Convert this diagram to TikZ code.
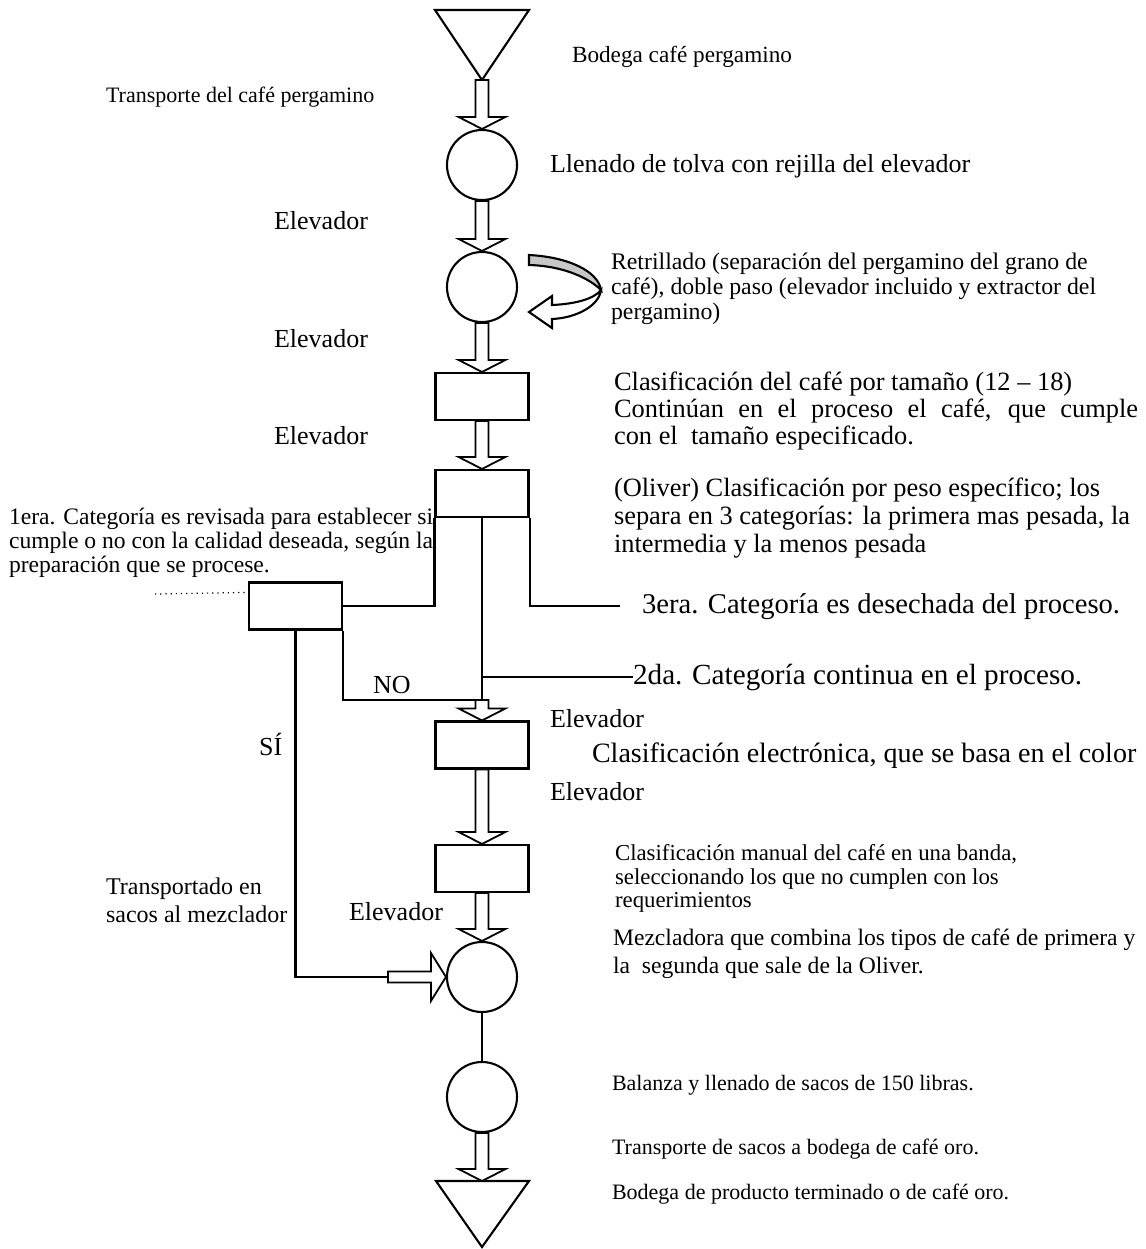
\documentclass[tikz,border=0pt]{standalone}
\usepackage{fontspec}
\setmainfont{Liberation Serif}
\usetikzlibrary{calc}

% hollow block arrow pointing down, from anchor #1 to tip #2
\newcommand\flowdown[2]{%
  \draw[blk] ($(#1)+(-6.5,0)$) -- ($(#2)+(-6.5,-12)$) -- ($(#2)+(-23.5,-12)$)
    -- (#2) -- ($(#2)+(23.5,-12)$) -- ($(#2)+(6.5,-12)$) -- ($(#1)+(6.5,0)$) -- cycle;}
\newcommand\fs[1]{\fontsize{#1}{#1}\selectfont}

\begin{document}
\begin{tikzpicture}[x=0.5pt,y=-0.5pt,line width=1.05pt,
  lbl/.style={anchor=base west,inner sep=0pt,font=\fs{12}},
  proc/.style={draw,circle,minimum size=35pt,inner sep=0pt},
  stepbox/.style={draw,rectangle,minimum width=46.5pt,minimum height=23.5pt,inner sep=0pt},
  blk/.style={draw,fill=white,line width=0.9pt,line join=miter}]

\useasboundingbox (0,0) rectangle (1146,1249);

% storage triangles
\coordinate (top) at (482,80);
\draw (435,10) -- (529,10) -- (top) -- cycle;
\coordinate (bot) at (482,1181);
\draw (bot) -- (436,1181) -- (482,1247) -- (529,1181) -- cycle;

% operations and inspections
\node[proc] (c1) at (482,165) {};
\node[proc] (c2) at (482,287) {};
\node[stepbox] (b1) at (482,396.5) {};
\node[stepbox] (ol) at (482,493.5) {};
\node[stepbox] (chk) at (295.5,606) {};
\node[stepbox] (b3) at (482,745) {};
\node[stepbox] (b4) at (482,868.5) {};
\node[proc] (mx) at (482,977) {};
\node[proc] (c5) at (482,1097) {};

% branch points and free ends
\coordinate (jno) at (482,700);
\coordinate (jnoR) at (489,700);
\coordinate (j2) at (482,677);
\coordinate (e2) at (633,677);
\coordinate (e3) at (620,606);
\coordinate (sIn) at (388,977);
\coordinate (dotL) at (155,594);

% flow arrows
\flowdown{top}{c1.north}
\flowdown{c1.south}{c2.north}
\flowdown{c2.south}{b1.north}
\flowdown{b1.south}{ol.north}
\flowdown{jno}{b3.north}
\flowdown{b3.south}{b4.north}
\flowdown{b4.south}{mx.north}
\flowdown{c5.south}{bot}

% Oliver outputs
\draw (ol.south west) |- (chk.east);
\draw (ol.south east) |- (e3);
\draw (ol.south) -- (jno);
\draw (j2) -- (e2);
\draw (chk.south east) |- (jnoR);
\draw (chk.south) |- (sIn);
\draw[dotted,line width=0.6pt] (dotL) -- ($(chk.north west)+(-3,11)$);
\draw (mx.south) -- (c5.north);

% sacks to the mixer
\draw[blk] ($(sIn)+(0,-5.5)$) -- ($(mx.west)+(-15,-5.5)$) -- ($(mx.west)+(-15,-24)$)
  -- (mx.west) -- ($(mx.west)+(-15,24)$) -- ($(mx.west)+(-15,5.5)$) -- ($(sIn)+(0,5.5)$) -- cycle;

% double pass (curved return arrow)
\draw[fill=black!22] (529,255) .. controls (568,257) and (598,271) .. (601,290)
  .. controls (590,279) and (565,266) .. (529,265) -- cycle;
\draw[fill=white,line join=miter] (601,290) .. controls (599,306) and (576,318) .. (552,319)
  -- (552,328) -- (529,312) -- (552,296) -- (552,305)
  .. controls (575,304) and (594,299) .. (601,290) -- cycle;

% labels
\node[lbl,font=\fs{11.6}] (tBodega) at (571,62) {Bodega café pergamino};
\node[lbl,font=\fs{11}] (tTransp) at (105,102) {Transporte del café pergamino};
\node[lbl,font=\fs{13}] (tLlen) at (549,172) {Llenado de tolva con rejilla del elevador};
\node[lbl,font=\fs{13}] (tEl1) at (273,229) {Elevador};
\node[lbl,font=\fs{11.9}] (tRe1) at (610,269) {Retrillado (separación del pergamino del grano de};
\node[lbl,font=\fs{11.9}] (tRe2) at (610,294) {café), doble paso (elevador incluido y extractor del};
\node[lbl,font=\fs{11.9}] (tRe3) at (610,319) {pergamino)};
\node[lbl,font=\fs{13}] (tEl2) at (273,347) {Elevador};
\node[lbl,font=\fs{13.2}] (tCl1) at (613,390) {Clasificación del café por tamaño (12 – 18)};
\node[lbl,font=\fs{13.2}] (tCl2) at (613,417) {\makebox[262pt][s]{Continúan en el proceso el café, que cumple}};
\node[lbl,font=\fs{13.2}] (tCl3) at (613,444) {con el\ \ tamaño especificado.};
\node[lbl,font=\fs{13}] (tEl3) at (273,444) {Elevador};
\node[lbl,font=\fs{13.2}] (tOl1) at (613,496) {(Oliver) Clasificación por peso específico; los};
\node[lbl,font=\fs{13.2}] (tOl2) at (613,524) {separa en 3 categorías: la primera mas pesada, la};
\node[lbl,font=\fs{13.2}] (tOl3) at (613,552) {intermedia y la menos pesada};
\node[lbl,font=\fs{11.8}] (tP1) at (8,524) {\makebox[212pt][s]{1era. Categoría es revisada para establecer si}};
\node[lbl,font=\fs{11.8}] (tP2) at (8,548) {\makebox[212pt][s]{cumple o no con la calidad deseada, según la}};
\node[lbl,font=\fs{11.8}] (tP3) at (8,572) {preparación que se procese.};
\node[lbl,font=\fs{14.3}] (t3era) at (641,613) {3era. Categoría es desechada del proceso.};
\node[lbl,font=\fs{14.6}] (t2da) at (632,684) {2da. Categoría continua en el proceso.};
\node[lbl,font=\fs{13}] (tNO) at (372,693) {NO};
\node[lbl,font=\fs{13}] (tEl4) at (549,727) {Elevador};
\node[lbl,font=\fs{13}] (tSI) at (258,755) {SÍ};
\node[lbl,font=\fs{14}] (tElec) at (591,762) {Clasificación electrónica, que se basa en el color};
\node[lbl,font=\fs{13}] (tEl5) at (549,800) {Elevador};
\node[lbl,font=\fs{11.4}] (tMa1) at (614,860) {Clasificación manual del café en una banda,};
\node[lbl,font=\fs{11.4}] (tMa2) at (614,884) {seleccionando los que no cumplen con los};
\node[lbl,font=\fs{11.4}] (tMa3) at (614,907) {requerimientos};
\node[lbl,font=\fs{13}] (tEl6) at (348,920) {Elevador};
\node[lbl,font=\fs{12}] (tTr1) at (105,894) {Transportado en};
\node[lbl,font=\fs{12}] (tTr2) at (105,922) {sacos al mezclador};
\node[lbl,font=\fs{11.8}] (tMz1) at (612,945) {Mezcladora que combina los tipos de café de primera y};
\node[lbl,font=\fs{11.8}] (tMz2) at (612,973) {la\ \ segunda que sale de la Oliver.};
\node[lbl,font=\fs{11}] (tBal) at (611,1090) {Balanza y llenado de sacos de 150 libras.};
\node[lbl,font=\fs{11}] (tTs) at (611,1154) {Transporte de sacos a bodega de café oro.};
\node[lbl,font=\fs{11}] (tBp) at (611,1199) {Bodega de producto terminado o de café oro.};

\end{tikzpicture}
\end{document}
